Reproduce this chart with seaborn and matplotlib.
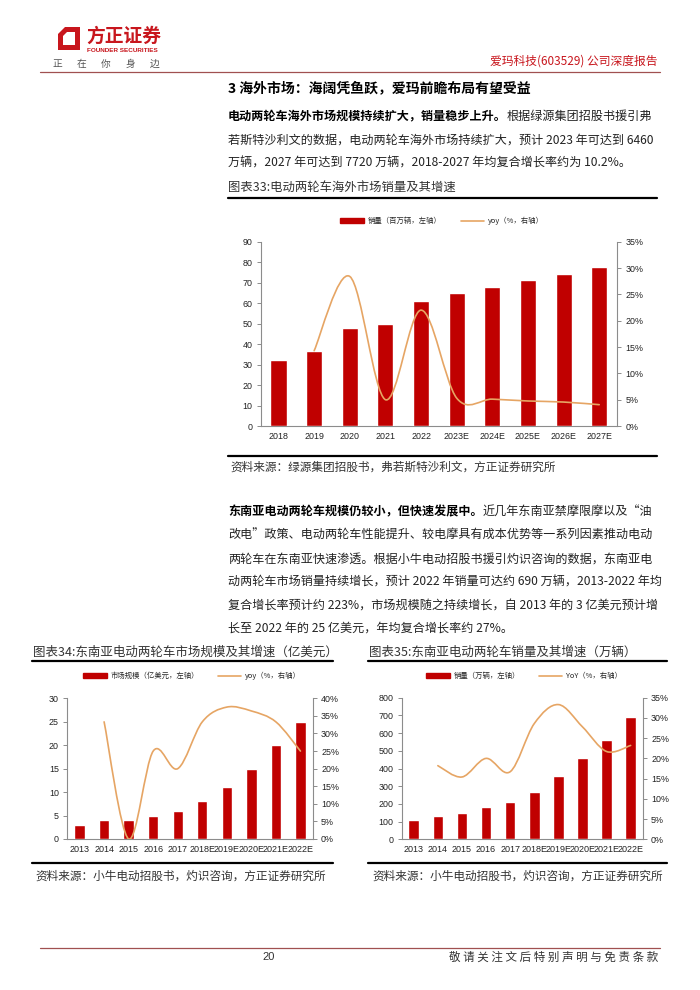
import numpy as np
import pandas as pd
import matplotlib
matplotlib.use("Agg")
import matplotlib.pyplot as plt
import seaborn as sns
from matplotlib.path import Path
from matplotlib.patches import PathPatch, Patch, Polygon
from matplotlib.lines import Line2D
from matplotlib.ticker import PercentFormatter

# ---------------- data ----------------
years33 = ["2018", "2019", "2020", "2021", "2022", "2023E", "2024E", "2025E", "2026E", "2027E"]
sales33 = [32.2, 36.8, 47.7, 50.0, 60.9, 64.8, 68.0, 71.3, 74.4, 77.7]          # 百万辆
yoy33 = [None, 14.3, 28.4, 5.0, 22.0, 5.3, 5.1, 4.75, 4.55, 4.05]              # %

years34 = ["2013", "2014", "2015", "2016", "2017", "2018E", "2019E", "2020E", "2021E", "2022E"]
market34 = [3, 4, 4, 5, 6, 8, 11, 15, 20, 25]                                   # 亿美元
yoy34 = [None, 33.3, 0.0, 25.0, 20.0, 33.3, 37.5, 36.4, 33.3, 25.0]             # %

years35 = ["2013", "2014", "2015", "2016", "2017", "2018E", "2019E", "2020E", "2021E", "2022E"]
sales35 = [110, 130, 150, 180, 210, 270, 360, 460, 560, 690]                    # 万辆
yoy35 = [None, 18.2, 15.4, 20.0, 16.7, 28.6, 33.3, 27.8, 21.7, 23.2]            # %

# ---------------- style ----------------
sns.set_style("white")
plt.rcParams["font.family"] = ["Liberation Sans", "Noto Sans CJK SC", "DejaVu Sans"]
CJK = ["Noto Sans CJK SC", "DejaVu Sans"]
RED = "#C00000"
ORANGE = "#E6A564"
HDR_RED = "#C8161D"
SPINE = "#8C8C8C"
BODY_FS = 8.7

W, H = 700, 990
fig = plt.figure(figsize=(7, 9.9), dpi=100)
fig.patch.set_facecolor("white")


def fx(x):
    return x / W


def fy(y):
    return 1 - y / H


def T(x, y, s, **kw):
    kw.setdefault("va", "center")
    kw.setdefault("family", CJK)
    return fig.text(fx(x), fy(y), s, **kw)


def hline(x0, x1, y, color="black", lw=1.0):
    fig.add_artist(Line2D([fx(x0), fx(x1)], [fy(y), fy(y)], color=color, lw=lw,
                          transform=fig.transFigure))


def smooth_line(ax, yvals, color):
    pts = np.array([(i, v) for i, v in enumerate(yvals) if v is not None], dtype=float)
    pts[:, 1] = pts[:, 1] / 100.0
    n = len(pts)
    verts = [pts[0]]
    codes = [Path.MOVETO]
    for i in range(n - 1):
        p0 = pts[i - 1] if i > 0 else pts[i]
        p1 = pts[i]
        p2 = pts[i + 1]
        p3 = pts[i + 2] if i + 2 < n else pts[i + 1]
        verts += [p1 + (p2 - p0) / 6.0, p2 - (p3 - p1) / 6.0, p2]
        codes += [Path.CURVE4] * 3
    ax.add_patch(PathPatch(Path(verts, codes), fill=False, edgecolor=color, lw=1.2,
                           capstyle="round", zorder=5))


def make_chart(rect_px, cats, vals, yoy, ylim, yticks, rlim, rticks, width, xfs):
    l, r, top, bot = rect_px
    ax = fig.add_axes([fx(l), fy(bot), (r - l) / W, (bot - top) / H])
    df = pd.DataFrame({"cat": cats, "val": vals})
    sns.barplot(data=df, x="cat", y="val", color=RED, saturation=1, width=width,
                ax=ax, zorder=3)
    ax.set_xlim(-0.5, len(cats) - 0.5)
    ax.set_ylim(*ylim)
    ax.set_yticks(yticks)
    ax.set_xlabel("")
    ax.set_ylabel("")
    ax.set_xticks(np.arange(len(cats)))
    ax.set_xticklabels(cats, fontsize=xfs, color="#222222")
    ax.set_xticks(np.arange(-0.5, len(cats), 1), minor=True)
    ax.tick_params(axis="x", which="major", length=0, pad=4)
    ax.tick_params(axis="x", which="minor", length=3, color=SPINE, width=0.7, direction="out")
    ax.tick_params(axis="y", length=3, color=SPINE, width=0.7, direction="out",
                   labelsize=6.4, labelcolor="#222222", pad=3, left=True)
    for s in ["top", "right"]:
        ax.spines[s].set_visible(False)
    for s in ["left", "bottom"]:
        ax.spines[s].set_color(SPINE)
        ax.spines[s].set_linewidth(0.8)
    ax.grid(False)
    ax.set_facecolor("none")

    ax2 = ax.twinx()
    ax2.set_ylim(*rlim)
    ax2.set_yticks(rticks)
    ax2.yaxis.set_major_formatter(PercentFormatter(1.0, decimals=0))
    ax2.tick_params(axis="y", length=3, color=SPINE, width=0.7, direction="out",
                    labelsize=6.4, labelcolor="#222222", pad=3, right=True)
    for s in ["top", "left", "bottom"]:
        ax2.spines[s].set_visible(False)
    ax2.spines["right"].set_color(SPINE)
    ax2.spines["right"].set_linewidth(0.8)
    ax2.grid(False)
    smooth_line(ax2, yoy, ORANGE)
    return ax, ax2


def legend(cx, cy, lab1, lab2):
    handles = [Patch(facecolor=RED, edgecolor=RED),
               Line2D([], [], color=ORANGE, lw=1.2)]
    fig.legend(handles=handles, labels=[lab1, lab2], loc="center",
               bbox_to_anchor=(fx(cx), fy(cy)), ncol=2, frameon=False,
               prop={"family": CJK, "size": 5.3}, handlelength=3.2, handleheight=0.6,
               columnspacing=2.6, handletextpad=0.5, borderpad=0)


# ---------------- header ----------------
fig.add_artist(Polygon([(fx(58), fy(50)), (fx(58), fy(34)), (fx(65), fy(27)),
                        (fx(80), fy(27)), (fx(80), fy(50))],
                       closed=True, facecolor=HDR_RED, edgecolor="none",
                       transform=fig.transFigure))
fig.add_artist(Polygon([(fx(63), fy(45)), (fx(63), fy(36)), (fx(67), fy(32)),
                        (fx(75), fy(32)), (fx(75), fy(45))],
                       closed=True, facecolor="white", edgecolor="none",
                       transform=fig.transFigure))
T(86, 36, "方正证券", fontsize=13.5, fontweight="bold", color=HDR_RED)
T(87, 51, "FOUNDER SECURITIES", fontsize=4.6, fontweight="bold", color=HDR_RED,
  family=["Liberation Sans"])
for i, ch in enumerate("正在你身边"):
    T(57 + i * 24.5, 64, ch, fontsize=7, color="#555555", ha="center")
T(658, 61, "爱玛科技(603529) 公司深度报告", fontsize=8.5, color=HDR_RED, ha="right")
hline(40, 660, 72, color="#A05050", lw=0.9)

# ---------------- section 1 text ----------------
T(228, 88, "3 海外市场：海阔凭鱼跃，爱玛前瞻布局有望受益", fontsize=10.0, fontweight="bold",
  color="black")

renderer = fig.canvas.get_renderer()


def mixed_line(x, y, bold, normal, fs=BODY_FS):
    t = T(x, y, bold, fontsize=fs, fontweight="bold", color="black")
    bb = t.get_window_extent(renderer)
    T(bb.x1, y, normal, fontsize=fs, color="#222222")


mixed_line(228, 116, "电动两轮车海外市场规模持续扩大，销量稳步上升。", "根据绿源集团招股书援引弗")
T(228, 140, "若斯特沙利文的数据，电动两轮车海外市场持续扩大，预计 2023 年可达到 6460",
  fontsize=BODY_FS, color="#222222")
T(228, 163, "万辆，2027 年可达到 7720 万辆，2018-2027 年均复合增长率约为 10.2%。",
  fontsize=BODY_FS, color="#222222")

T(228, 188, "图表33:电动两轮车海外市场销量及其增速", fontsize=8.9, color="#333333")
hline(228, 657, 197.5, color="black", lw=1.6)

legend(442, 221, "销量（百万辆，左轴）", "yoy（%，右轴）")
make_chart((260.7, 617, 241.7, 426), years33, sales33, yoy33,
           (0, 90), np.arange(0, 91, 10), (0, 0.35), np.arange(0, 0.351, 0.05), 0.45, 6.4)

hline(228, 657, 455.5, color="black", lw=1.6)
T(230, 467, "资料来源：绿源集团招股书，弗若斯特沙利文，方正证券研究所", fontsize=8.4,
  color="#333333")

# ---------------- section 2 text ----------------
mixed_line(228, 512, "东南亚电动两轮车规模仍较小，但快速发展中。", "近几年东南亚禁摩限摩以及“油")
para2 = ["改电”政策、电动两轮车性能提升、较电摩具有成本优势等一系列因素推动电动",
         "两轮车在东南亚快速渗透。根据小牛电动招股书援引灼识咨询的数据，东南亚电",
         "动两轮车市场销量持续增长，预计 2022 年销量可达约 690 万辆，2013-2022 年均",
         "复合增长率预计约 223%，市场规模随之持续增长，自 2013 年的 3 亿美元预计增",
         "长至 2022 年的 25 亿美元，年均复合增长率约 27%。"]
for i, line in enumerate(para2):
    T(228, 535.5 + i * 23.2, line, fontsize=BODY_FS, color="#222222")

# ---------------- chart 34 ----------------
T(33, 652, "图表34:东南亚电动两轮车市场规模及其增速（亿美元）", fontsize=9.0, color="#333333")
hline(32, 333, 661, color="black", lw=1.6)
legend(192, 676, "市场规模（亿美元，左轴）", "yoy（%，右轴）")
make_chart((67.3, 312.7, 698.3, 839), years34, market34, yoy34,
           (0, 30), np.arange(0, 31, 5), (0, 0.40), np.arange(0, 0.401, 0.05), 0.42, 6.5)
hline(32, 333, 862.5, color="black", lw=1.6)
T(35, 876, "资料来源：小牛电动招股书，灼识咨询，方正证券研究所", fontsize=8.4, color="#333333")

# ---------------- chart 35 ----------------
T(369, 652, "图表35:东南亚电动两轮车销量及其增速（万辆）", fontsize=9.0, color="#333333")
hline(368, 667, 661, color="black", lw=1.6)
legend(524, 676, "销量（万辆，左轴）", "YoY（%，右轴）")
make_chart((401.7, 642.7, 697.7, 839.3), years35, sales35, yoy35,
           (0, 800), np.arange(0, 801, 100), (0, 0.35), np.arange(0, 0.351, 0.05), 0.44, 6.5)
hline(368, 667, 862.5, color="black", lw=1.6)
T(372, 876, "资料来源：小牛电动招股书，灼识咨询，方正证券研究所", fontsize=8.4, color="#333333")

# ---------------- footer ----------------
hline(40, 660, 948, color="#A05050", lw=0.9)
T(262, 957, "20", fontsize=8, color="#333333", family=["Liberation Sans"])
T(658, 957, " ".join("敬请关注文后特别声明与免责条款"), fontsize=8.3, color="#333333", ha="right")

fig.savefig("out.png", dpi=100, facecolor="white")
